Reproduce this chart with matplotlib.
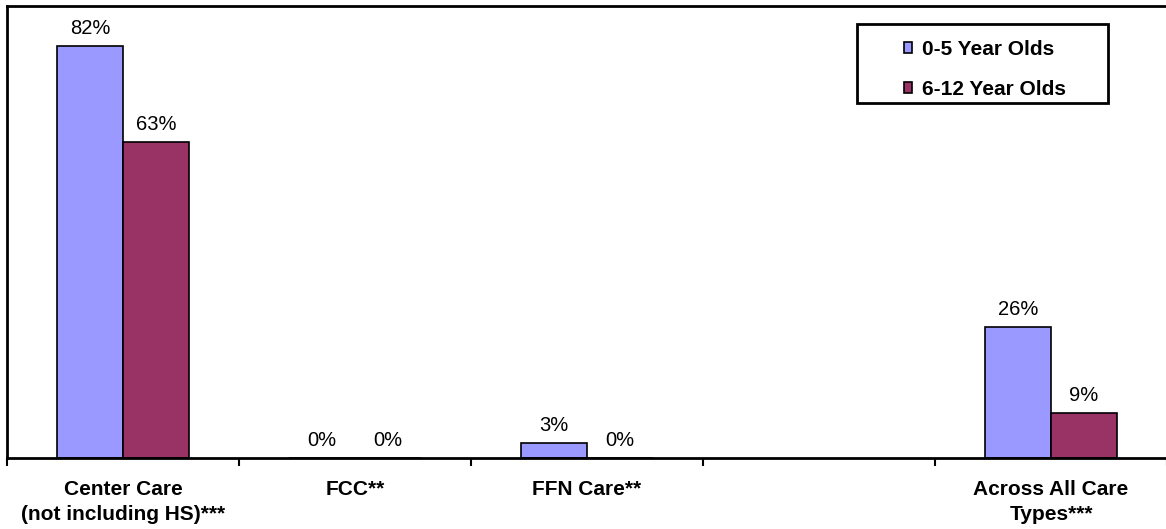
import matplotlib
matplotlib.use("Agg")
import matplotlib.pyplot as plt
from matplotlib.patches import Rectangle
import numpy as np

plt.rcParams['font.family'] = ['Liberation Sans', 'DejaVu Sans']

categories = ["Center Care\n(not including HS)***", "FCC**", "FFN Care**", "", "Across All Care\nTypes***"]
series_names = ["0-5 Year Olds", "6-12 Year Olds"]
vals_0_5 = [82, 0, 3, None, 26]
vals_6_12 = [63, 0, 0, None, 9]
colors = ["#9999FF", "#993366"]

W, H = 1166, 529
fig = plt.figure(figsize=(W/100, H/100), dpi=100)
ax = fig.add_axes([7/W, (H-458)/H, 1160/W, 452/H])

x = np.arange(len(categories))
w = 0.285
for i, (vals, col) in enumerate(zip([vals_0_5, vals_6_12], colors)):
    off = -w/2 if i == 0 else w/2
    for xi, v in zip(x, vals):
        if v is None:
            continue
        ax.bar(xi + off, v, width=w, color=col, edgecolor='black', linewidth=1.2, zorder=2)
        ax.text(xi + off, v + 1.6, f"{v}%", ha='center', va='bottom', fontsize=14.5)

ax.set_xlim(-0.5, len(categories) - 0.5)
ax.set_ylim(0, 90)
ax.set_yticks([])
ax.set_xticks(np.arange(len(categories) + 1) - 0.5)
ax.set_xticklabels([])
ax.tick_params(axis='x', direction='out', length=6, width=1.5)
ax.set_xticks(x, minor=True)
ax.set_xticklabels(categories, minor=True, fontweight='bold', fontsize=15, linespacing=1.45)
ax.tick_params(axis='x', which='minor', length=0, pad=15.5)

for s in ['left', 'top', 'bottom']:
    ax.spines[s].set_linewidth(2)
ax.spines['right'].set_visible(False)

handles = [Rectangle((0, 0), 1, 1, facecolor=c, edgecolor='black', linewidth=1.2) for c in colors]
leg = fig.legend(handles, series_names, loc='upper left', bbox_to_anchor=(904/W, 1 - 40/H),
                 bbox_transform=fig.transFigure,
                 frameon=False, handlelength=0.4, handleheight=0.4,
                 handletextpad=0.45, borderpad=0, labelspacing=1.0,
                 prop={'weight': 'bold', 'size': 15}, borderaxespad=0)
fig.patches.append(Rectangle((857/W, 1 - 103/H), (1108-857)/W, (103-24)/H,
                             transform=fig.transFigure, fill=False, edgecolor='black', linewidth=2))

fig.savefig("out.png", dpi=100)
